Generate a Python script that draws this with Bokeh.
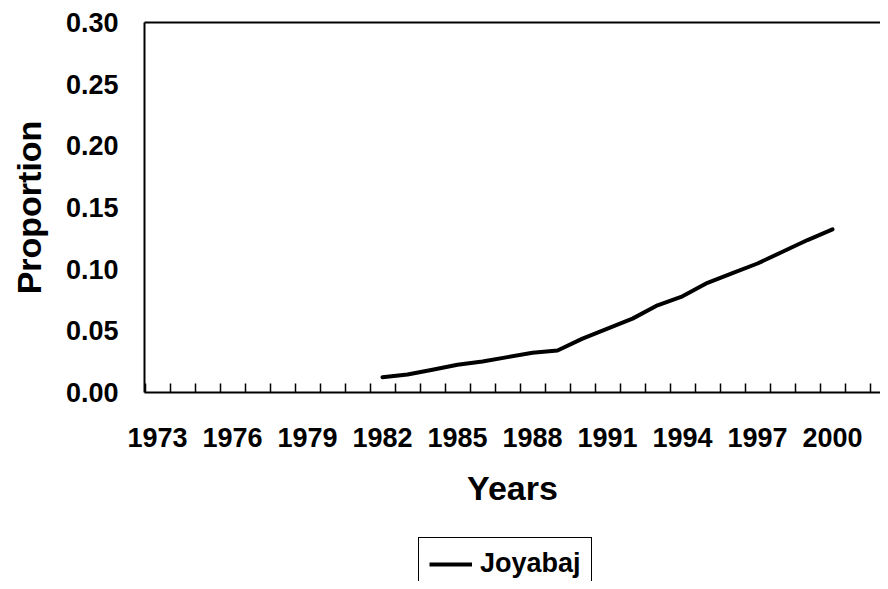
from bokeh.plotting import figure
from bokeh.layouts import column
from bokeh.models import (FixedTicker, LinearAxis, Legend, LegendItem, Range1d,
                          ColumnDataSource, CustomJSTickFormatter)
from bokeh.embed import file_html
from bokeh.resources import INLINE

# ---- data ----
years = [1982, 1983, 1984, 1985, 1986, 1987, 1988, 1989, 1990, 1991,
         1992, 1993, 1994, 1995, 1996, 1997, 1998, 1999, 2000]
proportion = [0.0124, 0.0146, 0.0185, 0.0225, 0.0252, 0.0287, 0.0323, 0.0341,
              0.0437, 0.0518, 0.0599, 0.0707, 0.0780, 0.0889, 0.0968,
              0.1046, 0.1141, 0.1236, 0.1323]
series_name = "Joyabaj"
label_years = [1973, 1976, 1979, 1982, 1985, 1988, 1991, 1994, 1997, 2000]
category_years = list(range(1973, 2003))
y_ticks = [0.0, 0.05, 0.10, 0.15, 0.20, 0.25, 0.30]

FONT = "Liberation Sans"
W = 880

p = figure(width=W, height=530, output_backend="svg", toolbar_location=None,
           x_range=Range1d(1972.48, 1972.48 + (W - 144) / 25.0),
           y_range=Range1d(0, 0.30),
           min_border_left=144, min_border_right=0, min_border_top=22,
           min_border_bottom=138, background_fill_color="white",
           border_fill_color="white", outline_line_color=None)
p.xgrid.visible = False
p.ygrid.visible = False

src = ColumnDataSource(dict(x=years, y=proportion))
r = p.line("x", "y", source=src, line_color="black", line_width=4,
           line_cap="round", line_join="round")

# x axis
xa = p.xaxis[0]
xa.ticker = FixedTicker(ticks=label_years,
                        minor_ticks=[y - 0.5 for y in category_years] + [category_years[-1] + 0.5])
xa.major_tick_in = 0
xa.major_tick_out = 0
xa.minor_tick_in = 9
xa.minor_tick_out = 0
xa.minor_tick_line_color = "black"
xa.minor_tick_line_width = 1.5
xa.axis_line_width = 2
xa.axis_line_color = "black"
xa.major_label_text_font = FONT
xa.major_label_text_font_style = "bold"
xa.major_label_text_font_size = "27px"
xa.major_label_text_color = "black"
xa.major_label_standoff = 35
xa.axis_label = "Years"
xa.axis_label_text_font = FONT
xa.axis_label_text_font_style = "bold"
xa.axis_label_text_font_size = "34px"
xa.axis_label_text_color = "black"
xa.axis_label_standoff = 19

# y axis
ya = p.yaxis[0]
ya.ticker = FixedTicker(ticks=y_ticks)
ya.formatter = CustomJSTickFormatter(code="return tick.toFixed(2);")
ya.major_tick_in = 0
ya.major_tick_out = 0
ya.minor_tick_in = 0
ya.minor_tick_out = 0
ya.axis_line_width = 2
ya.axis_line_color = "black"
ya.major_label_text_font = FONT
ya.major_label_text_font_style = "bold"
ya.major_label_text_font_size = "27px"
ya.major_label_text_color = "black"
ya.major_label_standoff = 26
ya.axis_label = "Proportion"
ya.axis_label_text_font = FONT
ya.axis_label_text_font_style = "bold"
ya.axis_label_text_font_size = "34px"
ya.axis_label_text_color = "black"
ya.axis_label_standoff = 15

# top border line
top = LinearAxis(ticker=FixedTicker(ticks=[]), axis_line_width=2,
                 axis_line_color="black", major_tick_in=0, major_tick_out=0,
                 minor_tick_in=0, minor_tick_out=0,
                 major_label_text_color=None)
p.add_layout(top, "above")

# legend strip below the chart (same series, drawn outside its visible range)
lg = figure(width=W, height=51, output_backend="svg", toolbar_location=None,
            x_range=Range1d(0, 1), y_range=Range1d(0, 1),
            min_border_left=0, min_border_right=0, min_border_top=0,
            min_border_bottom=0, outline_line_color=None,
            background_fill_color="white", border_fill_color="white")
lg.axis.visible = False
lg.xgrid.visible = False
lg.ygrid.visible = False
key = lg.line("x", "y", source=src, line_color="black", line_width=4)

legend = Legend(items=[LegendItem(label=series_name, renderers=[key])],
                location=(274, -9), orientation="horizontal",
                border_line_color="black", border_line_width=1.5,
                border_line_alpha=1.0,
                label_text_font=FONT, label_text_font_style="bold",
                label_text_font_size="27px", label_text_color="black",
                glyph_width=43, label_standoff=8, padding=10, margin=0,
                background_fill_color="white", background_fill_alpha=1.0)
lg.add_layout(legend, "center")

layout = column(p, lg, spacing=0)
open("out.html", "w").write(file_html(layout, INLINE))
